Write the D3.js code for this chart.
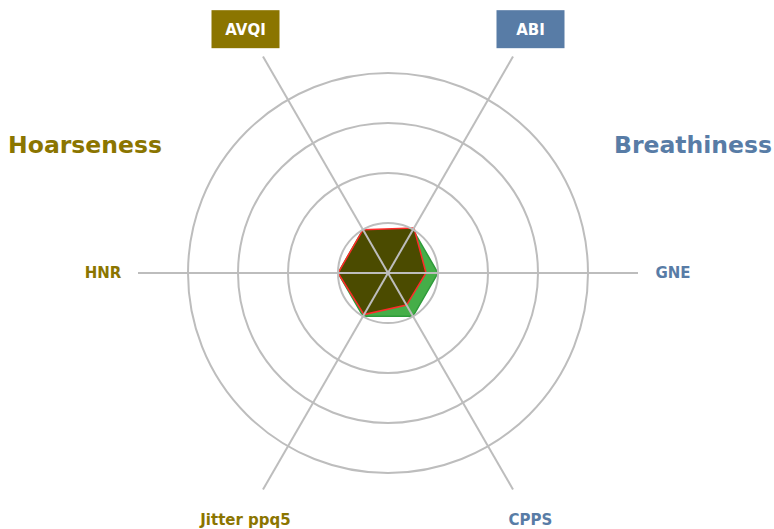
<!DOCTYPE html>
<html>
<head>
<meta charset="utf-8">
<script src="https://cdn.jsdelivr.net/npm/d3@7"></script>
<style>
  body { margin: 0; background: #fff; }
  text { font-family: "DejaVu Sans", sans-serif; font-weight: bold; }
</style>
</head>
<body>
<svg width="774" height="529"></svg>
<script>
// axes, clockwise from the left
var axes = ["HNR", "AVQI", "ABI", "GNE", "CPPS", "Jitter ppq5"];
var axisGroup = ["h", "h", "b", "b", "b", "h"];
var boxed = [false, true, true, false, false, false];
var rings = [1, 2, 3, 4];
var maxValue = 5;

// series values
var reference = [1, 1, 1, 1, 1, 1];
var patient = [1, 1, 1.04, 0.76, 0.74, 0.96];

var gold = "#8b7500", blue = "#587ca6";

var svg = d3.select("svg"),
    cx = 388, cy = 273;

var r = d3.scaleLinear().domain([0, maxValue]).range([0, 250]);
// angle in degrees, counter-clockwise from the right
var angle = d3.scalePoint().domain(axes).range([180, -120]);

function pt(name, v) {
  var a = angle(name) * Math.PI / 180;
  return [cx + r(v) * Math.cos(a), cy - r(v) * Math.sin(a)];
}

var line = d3.line();

// polygons
svg.append("path")
  .attr("d", line(axes.map(function(d, i) { return pt(d, reference[i]); })) + "Z")
  .attr("fill", "#45ae48")
  .attr("stroke", "#2e9b3a")
  .attr("stroke-width", 1.5);

svg.append("path")
  .attr("d", line(axes.map(function(d, i) { return pt(d, patient[i]); })) + "Z")
  .attr("fill", "#4b4b00")
  .attr("stroke", "#ff2a2a")
  .attr("stroke-width", 1.5);

// grid
var grid = svg.append("g");
grid.selectAll("circle")
  .data(rings)
  .enter().append("circle")
  .attr("cx", cx).attr("cy", cy)
  .attr("r", function(d) { return r(d); })
  .attr("fill", "none")
  .attr("stroke", "#bdbdbd")
  .attr("stroke-width", 2);

grid.selectAll("line")
  .data(axes)
  .enter().append("line")
  .attr("x1", cx).attr("y1", cy)
  .attr("x2", function(d) { return pt(d, maxValue)[0]; })
  .attr("y2", function(d) { return pt(d, maxValue)[1]; })
  .attr("stroke", "#bdbdbd")
  .attr("stroke-width", 2);

// axis labels
var labels = svg.append("g").selectAll("g")
  .data(axes)
  .enter().append("g")
  .attr("transform", function(d, i) {
    var p = pt(d, maxValue * 285 / 250);
    return "translate(" + p[0] + "," + (p[1] + (boxed[i] ? 3 : 0)) + ")";
  });

labels.filter(function(d, i) { return boxed[i]; })
  .append("rect")
  .attr("x", -34).attr("y", -19)
  .attr("width", 68).attr("height", 38)
  .attr("fill", function(d) { return axisGroup[axes.indexOf(d)] == "h" ? gold : blue; });

labels.append("text")
  .attr("text-anchor", "middle")
  .attr("dy", "0.36em")
  .attr("font-size", 15)
  .attr("fill", function(d) {
    var i = axes.indexOf(d);
    if (boxed[i]) return "#fff";
    return axisGroup[i] == "h" ? gold : blue;
  })
  .text(function(d) { return d; });

// group titles
svg.append("text")
  .attr("x", 85).attr("y", 145)
  .attr("dy", "0.36em")
  .attr("text-anchor", "middle")
  .attr("font-size", 23.5)
  .attr("fill", gold)
  .text("Hoarseness");

svg.append("text")
  .attr("x", 693).attr("y", 145)
  .attr("dy", "0.36em")
  .attr("text-anchor", "middle")
  .attr("font-size", 23.5)
  .attr("fill", blue)
  .text("Breathiness");
</script>
</body>
</html>
